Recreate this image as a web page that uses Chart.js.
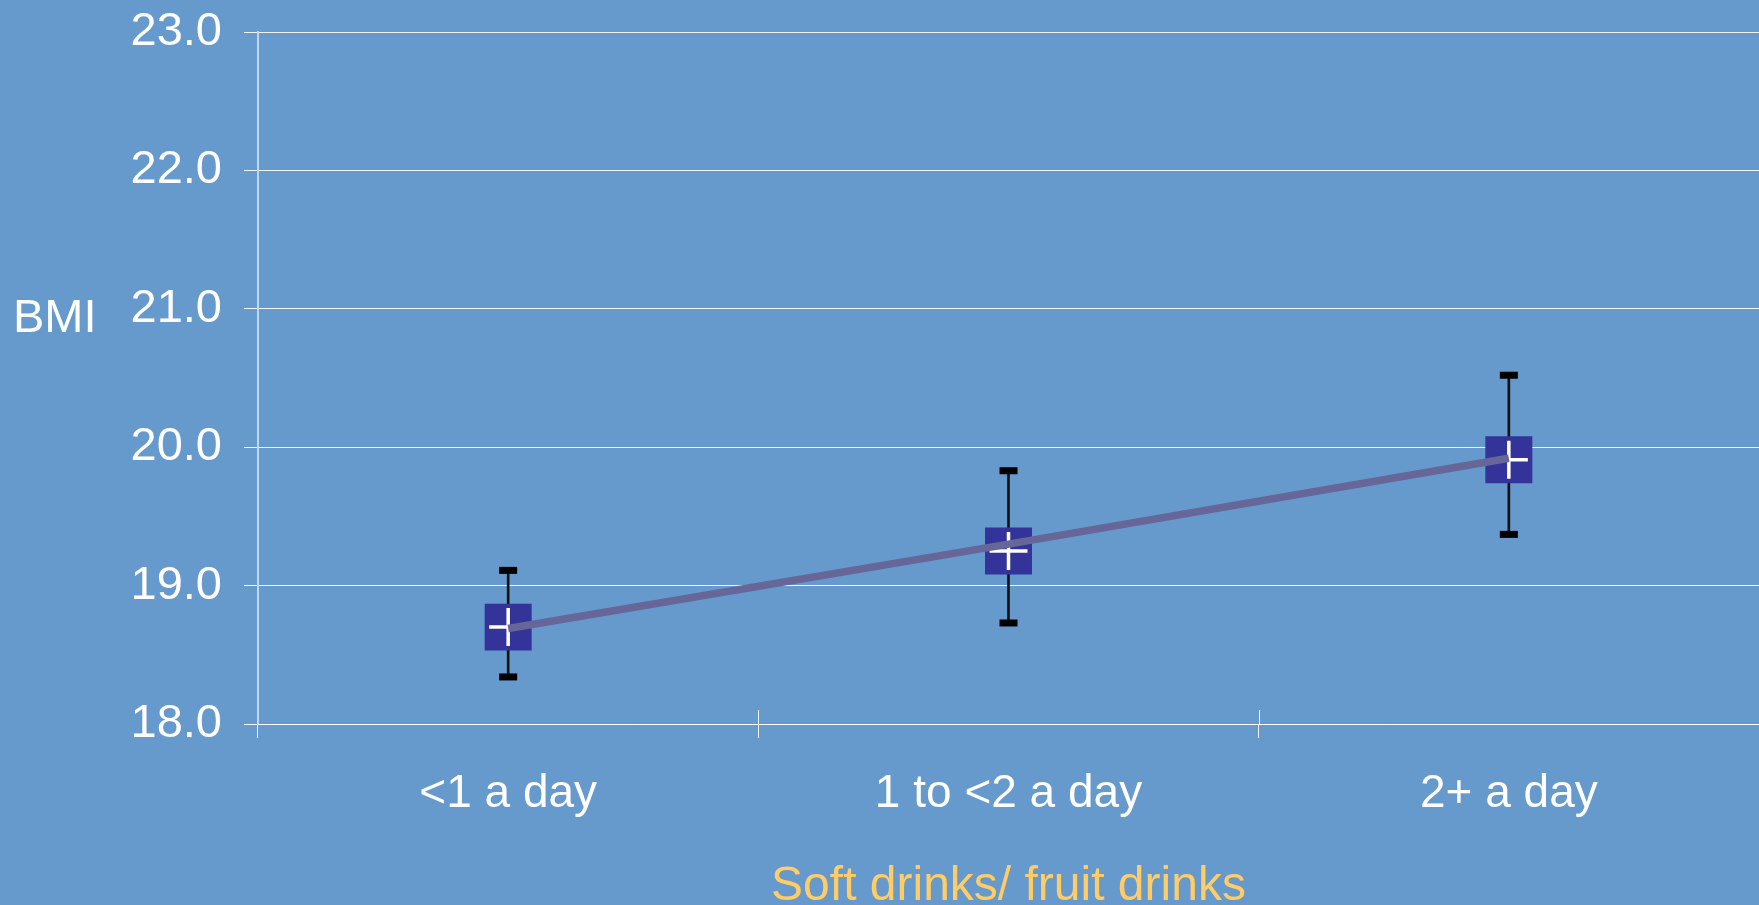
<!DOCTYPE html>
<html>
<head>
<meta charset="utf-8">
<script src="https://cdn.jsdelivr.net/npm/chart.js@4/dist/chart.umd.min.js"></script>
<style>
  html, body { margin: 0; padding: 0; background: #6699CC; overflow: hidden; }
  #wrap { width: 1759px; height: 905px; position: relative; }
</style>
</head>
<body>
<div id="wrap"><canvas id="c"></canvas></div>
<script>
// ---- data ----
const categories = ['<1 a day', '1 to <2 a day', '2+ a day'];
const meanBMI = [18.70, 19.25, 19.91];
const upperCI = [19.11, 19.83, 20.52];
const lowerCI = [18.34, 18.73, 19.37];
const trendLine = [18.69, 19.30, 19.92];
const yTickValues = [18, 19, 20, 21, 22, 23];
const yTickLabels = ['18.0', '19.0', '20.0', '21.0', '22.0', '23.0'];
const yAxisLabel = 'BMI';
const xAxisLabel = 'Soft drinks/ fruit drinks';

const FONT = '"Liberation Sans", Arial, Helvetica, sans-serif';

const whiskerRanges = categories.map((_, i) => [lowerCI[i], upperCI[i]]);

const bmiLabelPlugin = {
  id: 'bmiLabel',
  afterDraw(chart) {
    const ctx = chart.ctx;
    const yScale = chart.scales.y;
    ctx.save();
    ctx.font = '47px ' + FONT;
    ctx.fillStyle = '#FFFFFF';
    ctx.textAlign = 'left';
    ctx.textBaseline = 'middle';
    ctx.fillText(yAxisLabel, 13, yScale.getPixelForValue(21) + 10);
    ctx.restore();
  }
};

const innerTicksPlugin = {
  id: 'innerTicks',
  afterDraw(chart) {
    const ctx = chart.ctx;
    const xs = chart.scales.x;
    const n = categories.length;
    const b = chart.chartArea.bottom;
    ctx.save();
    ctx.strokeStyle = 'rgba(255,255,255,0.9)';
    ctx.lineWidth = 1;
    for (let i = 1; i < n; i++) {
      const x = Math.round(xs.left + i * xs.width / n) + 0.5;
      ctx.beginPath();
      ctx.moveTo(x, b - 14);
      ctx.lineTo(x, b);
      ctx.stroke();
    }
    ctx.restore();
  }
};

new Chart(document.getElementById('c'), {
  data: {
    labels: categories,
    datasets: [
      {
        type: 'line',
        label: 'trend',
        data: trendLine,
        borderColor: '#666699',
        borderWidth: 7.5,
        pointRadius: 0,
        fill: false,
        tension: 0,
        order: 0
      },
      {
        type: 'line',
        label: 'mean cross',
        data: meanBMI,
        showLine: false,
        pointStyle: 'cross',
        pointRadius: 19,
        pointBorderWidth: 3.5,
        pointBorderColor: '#FFFFFF',
        order: 1
      },
      {
        type: 'line',
        label: 'mean box',
        data: meanBMI,
        showLine: false,
        pointStyle: 'rect',
        pointRadius: 33.2,
        pointBorderWidth: 0,
        pointBackgroundColor: '#333399',
        order: 2
      },
      {
        type: 'line',
        label: 'upper cap',
        data: upperCI,
        showLine: false,
        pointStyle: 'line',
        pointRadius: 9,
        pointBorderWidth: 7,
        pointBorderColor: '#000000',
        order: 3
      },
      {
        type: 'line',
        label: 'lower cap',
        data: lowerCI,
        showLine: false,
        pointStyle: 'line',
        pointRadius: 9,
        pointBorderWidth: 7,
        pointBorderColor: '#000000',
        order: 3
      },
      {
        type: 'bar',
        label: 'whisker',
        data: whiskerRanges,
        backgroundColor: '#111111',
        borderWidth: 0,
        barThickness: 2,
        order: 4
      }
    ]
  },
  options: {
    responsive: true,
    maintainAspectRatio: false,
    animation: false,
    events: [],
    layout: { autoPadding: false, padding: { top: 32, right: 0, bottom: 0, left: 0 } },
    plugins: {
      legend: { display: false },
      tooltip: { enabled: false },
      title: { display: false }
    },
    scales: {
      x: {
        type: 'category',
        offset: true,
        grid: {
          display: true,
          offset: true,
          drawOnChartArea: false,
          drawTicks: true,
          tickLength: 14,
          color: 'rgba(255,255,255,0.9)',
          lineWidth: 1
        },
        border: { display: true, color: 'rgba(255,255,255,0.9)', width: 1 },
        ticks: {
          color: '#FFFFFF',
          font: { family: FONT, size: 46 },
          padding: 29,
          maxRotation: 0,
          autoSkip: false
        },
        title: {
          display: true,
          text: xAxisLabel,
          color: '#FFCC66',
          font: { family: FONT, size: 48, lineHeight: 0.75 },
          padding: 0
        },
        afterFit(scale) {
          scale.height = 181;
          scale.paddingLeft = 0;
          scale.paddingRight = 0;
        }
      },
      y: {
        type: 'linear',
        min: 18,
        max: 23,
        afterBuildTicks(scale) {
          scale.ticks = yTickValues.map(v => ({ value: v }));
        },
        grid: {
          display: true,
          color: 'rgba(255,255,255,0.9)',
          lineWidth: 1,
          drawTicks: true,
          tickLength: 14,
          tickColor: 'rgba(255,255,255,0.9)'
        },
        border: { display: true, color: 'rgba(225,235,248,0.75)', width: 2 },
        ticks: {
          color: '#FFFFFF',
          font: { family: FONT, size: 47 },
          padding: 22,
          callback(value) {
            const i = yTickValues.indexOf(value);
            return i >= 0 ? yTickLabels[i] : '';
          }
        },
        afterFit(scale) {
          scale.width = 258;
          scale.paddingTop = 0;
          scale.paddingBottom = 0;
        }
      }
    }
  },
  plugins: [bmiLabelPlugin, innerTicksPlugin]
});
</script>
</body>
</html>
